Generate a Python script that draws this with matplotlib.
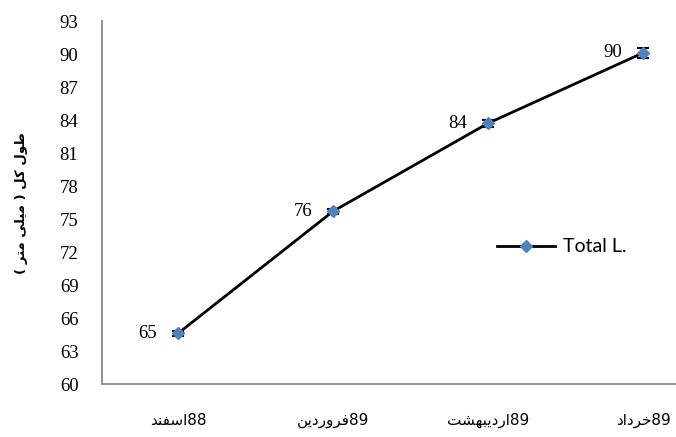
import matplotlib
matplotlib.use("Agg")
import matplotlib.pyplot as plt

# ---- data ----
months = ["اسفند", "فروردین", "اردیبهشت", "خرداد"]
years = ["88", "89", "89", "89"]
total_length = [64.6, 75.7, 83.7, 90.1]
length_err = [0.2, 0.2, 0.3, 0.45]
series_name = "Total L."
y_label = "طول کل ( میلی متر )"
y_ticks = list(range(60, 94, 3))

# ---- simple Persian shaping (presentation forms, visual order) ----
# letter: (isolated, final, initial, medial); right-joining letters have no initial/medial
FORMS = {
    "ا": ("\uFE8D", "\uFE8E", None, None),
    "ب": ("\uFE8F", "\uFE90", "\uFE91", "\uFE92"),
    "ت": ("\uFE95", "\uFE96", "\uFE97", "\uFE98"),
    "خ": ("\uFEA5", "\uFEA6", "\uFEA7", "\uFEA8"),
    "د": ("\uFEA9", "\uFEAA", None, None),
    "ر": ("\uFEAD", "\uFEAE", None, None),
    "س": ("\uFEB1", "\uFEB2", "\uFEB3", "\uFEB4"),
    "ش": ("\uFEB5", "\uFEB6", "\uFEB7", "\uFEB8"),
    "ط": ("\uFEC1", "\uFEC2", "\uFEC3", "\uFEC4"),
    "ف": ("\uFED1", "\uFED2", "\uFED3", "\uFED4"),
    "ل": ("\uFEDD", "\uFEDE", "\uFEDF", "\uFEE0"),
    "م": ("\uFEE1", "\uFEE2", "\uFEE3", "\uFEE4"),
    "ن": ("\uFEE5", "\uFEE6", "\uFEE7", "\uFEE8"),
    "ه": ("\uFEE9", "\uFEEA", "\uFEEB", "\uFEEC"),
    "و": ("\uFEED", "\uFEEE", None, None),
    "ی": ("\uFBFC", "\uFBFD", "\uFBFE", "\uFBFF"),
    "ک": ("\uFB8E", "\uFB8F", "\uFB90", "\uFB91"),
}


def rtl(text):
    shaped = []
    n = len(text)
    for i, ch in enumerate(text):
        if ch not in FORMS:
            shaped.append(ch)
            continue
        iso, fin, ini, med = FORMS[ch]
        prev = text[i - 1] if i > 0 else None
        nxt = text[i + 1] if i < n - 1 else None
        join_prev = prev in FORMS and FORMS[prev][2] is not None
        join_next = ini is not None and nxt in FORMS
        if join_prev and join_next:
            shaped.append(med)
        elif join_prev:
            shaped.append(fin)
        elif join_next:
            shaped.append(ini)
        else:
            shaped.append(iso)
    mirror = {"(": ")", ")": "("}
    return "".join(mirror.get(c, c) for c in reversed(shaped))


x_labels = [rtl(m) + y for m, y in zip(months, years)]
x = list(range(len(months)))

# ---- figure ----
fig = plt.figure(figsize=(6.76, 4.37), dpi=100)
ax = fig.add_axes([102 / 676, 1 - 384 / 437, 1 - 102 / 676, (384 - 21) / 437])

blue = "#4F81BD"
axis_grey = "#898989"

ax.errorbar(x, total_length, yerr=length_err, fmt="none", ecolor="black",
            elinewidth=1.5, capsize=4.5, capthick=1.5, zorder=2)
ax.plot(x, total_length, color="black", linewidth=2, marker="D",
        markersize=6.5, markerfacecolor=blue, markeredgecolor=blue,
        label=series_name, zorder=3)

for xi, v in zip(x, total_length):
    ax.annotate(f"{v:.0f}", (xi, v), xytext=(-15, 0), textcoords="offset points",
                ha="right", va="center", fontsize=13.5,
                family="Liberation Serif", color="black")

ax.set_ylim(60, 93)
ax.set_yticks(y_ticks)
ax.set_xlim((102 - 178) / 155, (676 - 178) / 155)
ax.set_xticks(x)
ax.set_xticklabels(x_labels, family=["DejaVu Sans"], fontsize=11)

for lab in ax.get_yticklabels():
    lab.set_family("Liberation Serif")
    lab.set_fontsize(13.5)

ax.tick_params(axis="both", length=0)
ax.tick_params(axis="y", pad=17)
ax.tick_params(axis="x", pad=21)

for side in ("top", "right"):
    ax.spines[side].set_visible(False)
for side in ("left", "bottom"):
    ax.spines[side].set_color(axis_grey)
    ax.spines[side].set_linewidth(1.3)

fig.text(22 / 676, 1 - 203 / 437, rtl(y_label), rotation=90, ha="center",
         va="center", fontsize=9.5, family=["DejaVu Sans"], weight="bold")

ax.legend(loc="center left", bbox_to_anchor=(497 / 676, 1 - 247 / 437),
          bbox_transform=fig.transFigure, frameon=False, borderpad=0,
          borderaxespad=0, handlelength=3.0, handletextpad=0.4,
          prop={"family": "Lato", "size": 14})

fig.savefig("out.png", dpi=100)
